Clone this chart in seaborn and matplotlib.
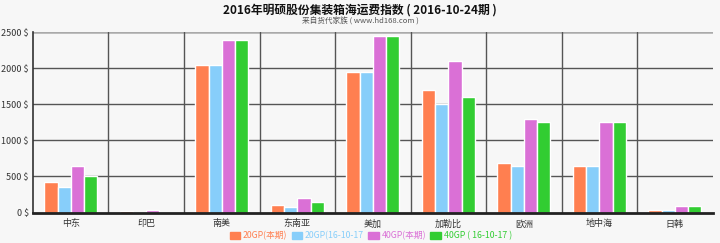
import matplotlib
matplotlib.use("Agg")
import matplotlib.pyplot as plt
import seaborn as sns
import pandas as pd

categories = ["中东", "印巴", "南美", "东南亚", "美加", "加勒比", "欧洲", "地中海", "日韩"]
series_names = ["20GP(本期)", "20GP(16-10-17", "40GP(本期)", "40GP ( 16-10-17 )"]
s20_now = [430, 25, 2050, 100, 1950, 1700, 680, 650, 35]
s20_prev = [350, 0, 2050, 70, 1950, 1500, 650, 650, 35]
s40_now = [650, 40, 2400, 200, 2450, 2100, 1300, 1250, 85]
s40_prev = [500, 0, 2400, 140, 2450, 1600, 1250, 1250, 85]
yticks = [0, 500, 1000, 1500, 2000, 2500]
ytick_labels = ["0 $", "500 $", "1000 $", "1500 $", "2000 $", "2500 $"]
colors = ["#ff7f50", "#87cefa", "#da70d6", "#32cd32"]

rows = []
for name, vals in zip(series_names, [s20_now, s20_prev, s40_now, s40_prev]):
    for c, v in zip(categories, vals):
        rows.append({"cat": c, "series": name, "value": v})
df = pd.DataFrame(rows)

sns.set_style("white")
plt.rcParams["font.family"] = ["Noto Sans CJK SC", "DejaVu Sans"]

bg = "#f7f7f7"
fig = plt.figure(figsize=(7.2, 2.43), dpi=100, facecolor=bg)
ax = fig.add_axes([0.0458, 0.1255, 0.944, 0.7415])
ax.set_facecolor(bg)

sns.barplot(data=df, x="cat", y="value", hue="series", palette=colors,
            width=0.7, gap=0, ax=ax, legend=False, saturation=1,
            order=categories, hue_order=series_names)

ax.set_ylim(0, 2500)
ax.set_xlim(-0.5, len(categories) - 0.5)
ax.set_yticks(yticks)
ax.set_yticklabels(ytick_labels)
ax.set_xlabel("")
ax.set_ylabel("")
ax.tick_params(axis="both", labelsize=6.5, colors="#333333", length=0, pad=3)
ax.tick_params(axis="x", pad=5)

for y in yticks[1:-1]:
    ax.axhline(y, color="#555555", lw=1.0, zorder=0)
ax.axhline(2500, color="#aaaaaa", lw=1.8, zorder=0)
for i in range(1, len(categories)):
    ax.axvline(i - 0.5, color="#555555", lw=1.0, zorder=0)

for s in ["top", "right"]:
    ax.spines[s].set_visible(False)
ax.spines["left"].set_color("#333333")
ax.spines["left"].set_linewidth(1.2)
ax.spines["bottom"].set_color("#222222")
ax.spines["bottom"].set_linewidth(2)

fig.text(0.5, 0.958, "2016年明硕股份集装箱海运费指数 ( 2016-10-24期 )",
         ha="center", va="center", fontsize=8.5, fontweight="bold", color="#111111")
fig.text(0.5, 0.91, "来自货代家族 ( www.hd168.com )",
         ha="center", va="center", fontsize=5.5, color="#555555")

from matplotlib.patches import Patch
handles = [Patch(facecolor=c, edgecolor=c) for c in colors]
leg = fig.legend(handles, series_names, loc="center", bbox_to_anchor=(0.515, 0.03),
                 ncol=4, frameon=False, fontsize=6.3, handlelength=1.2, handleheight=0.8,
                 handletextpad=0.3, columnspacing=0.5, labelcolor=colors)

fig.savefig("out.png", dpi=100, facecolor=bg)
